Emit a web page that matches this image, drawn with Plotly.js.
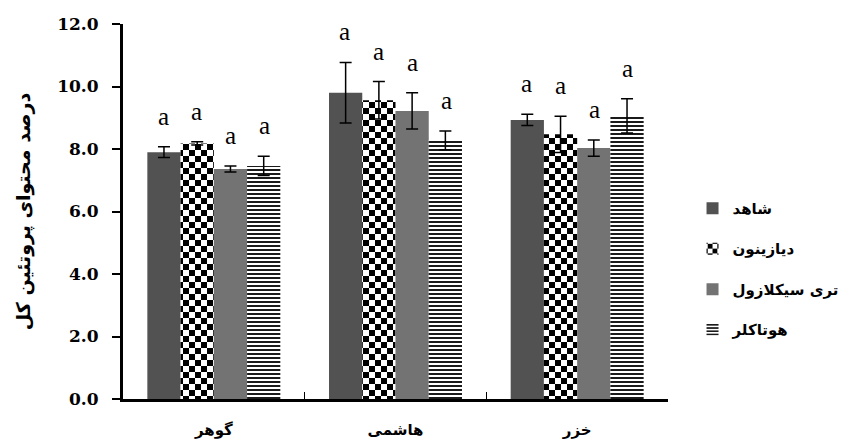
<!DOCTYPE html>
<html><head><meta charset="utf-8">
<script src="https://cdn.plot.ly/plotly-3.0.1.min.js"></script>
<style>body{margin:0;background:#fff}#c{width:856px;height:447px}</style>
</head><body><div id="c"></div>
<script>
const categories = ['گوهر', 'هاشمی', 'خزر'];
const seriesNames = ['شاهد', 'دیازینون', 'تری سیکلازول', 'هوتاکلر'];
const control = [7.9, 9.8, 8.93];
const diazinon = [8.18, 9.56, 8.47];
const tricyclazole = [7.36, 9.22, 8.03];
const hutaklor = [7.46, 8.28, 9.06];
const controlErr = [0.17, 0.97, 0.18];
const diazinonErr = [0.05, 0.6, 0.58];
const tricyclazoleErr = [0.1, 0.58, 0.26];
const hutaklorErr = [0.31, 0.3, 0.55];
const letters = [['a','a','a'],['a','a','a'],['a','a','a'],['a','a','a']];
const yTicks = [0, 2, 4, 6, 8, 10, 12];

const values = [control, diazinon, tricyclazole, hutaklor];
const errs = [controlErr, diazinonErr, tricyclazoleErr, hutaklorErr];
const markers = [
  {color: '#525252', line: {width: 0}},
  {color: '#ffffff', line: {width: 0}, pattern: {shape: '.', fgcolor: '#000', bgcolor: '#fff', size: 10, solidity: 0.5}},
  {color: '#737373', line: {width: 0}},
  {color: '#ffffff', line: {width: 0}, pattern: {shape: '-', fgcolor: '#000', bgcolor: '#fff', size: 4, solidity: 0.45}}
];
const arFont = 'DejaVu Sans';
const traces = values.map((v, i) => ({
  type: 'bar', x: categories, y: v, name: seriesNames[i], legendgroup: 'g' + i,
  marker: markers[i],
  error_y: {type: 'data', array: errs[i], visible: true, color: '#000', thickness: 1.5, width: 6}
}));

const margin = {l: 123, r: 181, t: 24, b: 48};
const bargap = 0.268;
const plotW = 856 - margin.l - margin.r;
const barW = plotW / categories.length * (1 - bargap) / values.length;
const annotations = [];
values.forEach((v, i) => {
  v.forEach((val, j) => {
    annotations.push({
      x: categories[j], y: val + errs[i][j], xref: 'x', yref: 'y',
      text: letters[i][j], showarrow: false, yanchor: 'bottom', yshift: 15,
      xshift: (i - (values.length - 1) / 2) * barW,
      font: {family: 'Liberation Serif', size: 25, color: '#000'}
    });
  });
});

const layout = {
  width: 856, height: 447, margin: margin,
  paper_bgcolor: '#fff', plot_bgcolor: '#fff',
  barmode: 'group', bargap: bargap, bargroupgap: 0,
  showlegend: true,
  legend: {x: 1.045, xanchor: 'left', y: 0.347, yanchor: 'middle', xref: 'paper', yref: 'paper',
    traceorder: 'grouped', tracegroupgap: 18, itemwidth: 30,
    font: {family: arFont, size: 15, color: '#000', weight: 'bold'}},
  xaxis: {
    type: 'category', showline: true, linecolor: '#000', linewidth: 3,
    ticks: 'inside', tickson: 'boundaries', ticklen: 7, tickwidth: 1.5, tickcolor: '#000',
    ticklabelstandoff: 15,
    tickfont: {family: arFont, size: 15, color: '#000', weight: 'bold'},
    showgrid: false, zeroline: false, fixedrange: true
  },
  yaxis: {
    range: [0, 12], tickvals: yTicks, tickformat: '.1f',
    showline: true, linecolor: '#000', linewidth: 3,
    ticks: 'outside', ticklen: 8, tickwidth: 2, tickcolor: '#000',
    ticklabelstandoff: 10,
    tickfont: {family: 'DejaVu Serif', size: 17, color: '#000', weight: 'bold'},
    showgrid: false, zeroline: false,
    title: {text: 'درصد محتوای پروتئین کل', standoff: 22,
      font: {family: arFont, size: 19, color: '#000', weight: 'bold'}}
  },
  annotations: annotations
};
Plotly.newPlot('c', traces, layout, {displayModeBar: false, staticPlot: true}).then(function () {
  // turn the dot fill into a checkerboard fill
  document.querySelectorAll('pattern').forEach(function (p) {
    if (!p.querySelector('circle')) return;
    const ns = 'http://www.w3.org/2000/svg';
    const s = 12, h = s / 2;
    while (p.firstChild) p.removeChild(p.firstChild);
    p.setAttribute('width', s); p.setAttribute('height', s);
    p.removeAttribute('viewBox');
    const mk = (x, y, w, hh, f) => { const r = document.createElementNS(ns, 'rect');
      r.setAttribute('x', x); r.setAttribute('y', y); r.setAttribute('width', w); r.setAttribute('height', hh);
      r.setAttribute('fill', f); p.appendChild(r); };
    mk(0, 0, s, s, '#fff'); mk(0, 0, h, h, '#000'); mk(h, h, h, h, '#000');
  });
});
</script></body></html>
